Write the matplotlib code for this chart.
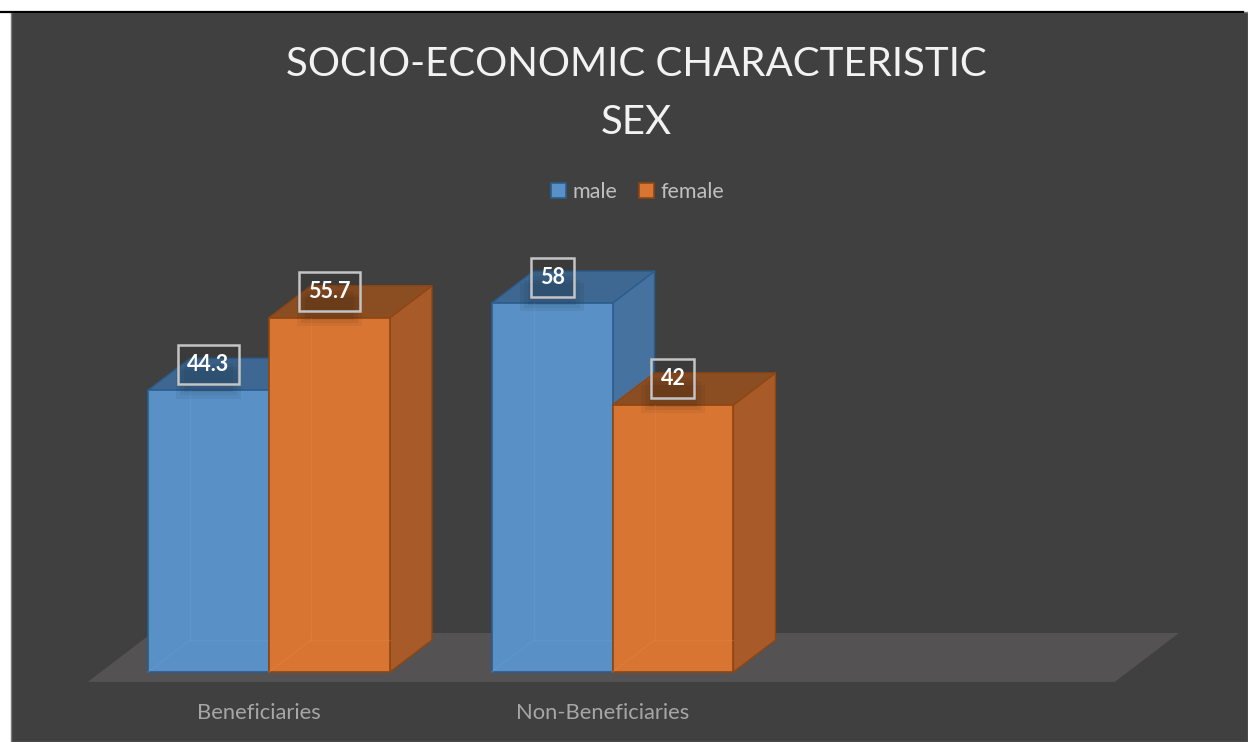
import matplotlib
matplotlib.use("Agg")
import matplotlib.pyplot as plt
from matplotlib.patches import Polygon, Rectangle, Patch
from matplotlib.lines import Line2D

# ---- data ----
categories = ["Beneficiaries", "Non-Beneficiaries"]
series_names = ["male", "female"]
male = [44.3, 58]
female = [55.7, 42]
title_lines = ["SOCIO-ECONOMIC CHARACTERISTIC", "SEX"]

# ---- style ----
BG = "#404040"
FLOOR = "#545253"
colors = {
    "male": dict(front="#5990c6", side="#45729f", top="#3e6891", edge="#2b5d8e", hid="#6aa2d8"),
    "female": dict(front="#d87533", side="#a85b28", top="#8b4e23", edge="#8f4612", hid="#e88a48"),
}

W, H = 1248, 742
fig = plt.figure(figsize=(W / 100, H / 100), dpi=100)
fig.patch.set_facecolor("white")

# dark chart panel + top rule
fig.patches.append(Rectangle((11 / W, 0), 1 - 11 / W, 1 - 12 / H, transform=fig.transFigure,
                             facecolor=BG, edgecolor="#7a7a7a", linewidth=1.0, zorder=-5))
fig.lines.append(Line2D([0, 1243 / W], [1 - 11.5 / H, 1 - 11.5 / H], transform=fig.transFigure,
                        color="black", linewidth=1.6, zorder=-4))

ax = fig.add_axes([0, 0, 1, 1])
ax.set_zorder(2)
ax.set_axis_off()
ax.patch.set_alpha(0)
ax.set_xlim(-0.7831, 2.850)
ax.set_ylim(-11.0, 105.66)

bw = 0.352             # bar width (category units)
DX, DY = 0.1223, 5.03  # depth vector
n_slots = 3            # Excel axis reserves space for 3 category slots

# floor
d0, d1 = -0.31, 1.22
xl, xr = -0.49, n_slots - 0.5
floor = Polygon([(xl + d0 * DX, d0 * DY), (xr + d0 * DX, d0 * DY),
                 (xr + d1 * DX, d1 * DY), (xl + d1 * DX, d1 * DY)],
                closed=True, facecolor=FLOOR, edgecolor="none", zorder=1)
ax.add_patch(floor)


def draw_bar(x0, v, c, z):
    w = bw
    ax.add_patch(Polygon([(x0 + w, 0), (x0 + w + DX, DY), (x0 + w + DX, v + DY), (x0 + w, v)],
                         closed=True, facecolor=c["side"], edgecolor=c["edge"], linewidth=1.0,
                         joinstyle="round", zorder=z))
    ax.add_patch(Polygon([(x0, v), (x0 + DX, v + DY), (x0 + w + DX, v + DY), (x0 + w, v)],
                         closed=True, facecolor=c["top"], edgecolor=c["edge"], linewidth=1.0,
                         joinstyle="round", zorder=z))
    ax.bar(x0, v, width=w, align="edge", color=c["front"], edgecolor=c["edge"],
           linewidth=1.2, zorder=z + 0.1)
    kw = dict(color=c["hid"], linewidth=1.0, alpha=0.3, zorder=z + 0.2)
    ax.plot([x0 + DX, x0 + DX], [DY, v], **kw)
    ax.plot([x0 + DX, x0 + w], [DY, DY], **kw)
    ax.plot([x0, x0 + DX], [0, DY], **kw)


z = 3
for i, cat in enumerate(categories):
    draw_bar(i - bw, male[i], colors["male"], z)
    z += 1
    draw_bar(i, female[i], colors["female"], z)
    z += 1

# data labels
for i in range(len(categories)):
    for x0, v in [(i - bw, male[i]), (i, female[i])]:
        xc = x0 + bw / 2
        lab = f"{v:g}"
        for k in range(3):
            ax.add_patch(Rectangle((xc - 0.07 - 0.012 * k, v - 0.3 - 0.5 * k), 0.14 + 0.024 * k, 4.5,
                                   facecolor="black", alpha=0.05, edgecolor="none", zorder=20))
        ax.text(xc, v + 4.1, lab, ha="center", va="center", color="white", fontsize=15.5,
                fontweight="bold", family=["Lato", "DejaVu Sans"], zorder=22,
                bbox=dict(boxstyle="square,pad=0.42", facecolor=(0, 0, 0, 0.08),
                          edgecolor="#c4c4c4", linewidth=1.8))

# category labels
for i, cat in enumerate(categories):
    ax.text(i - 0.03, -6.4, cat, ha="center", va="center", color="#a6a6a6", fontsize=15.8,
            family=["Lato", "DejaVu Sans"], zorder=5)

# title
for k, line in enumerate(title_lines):
    fig.text(636 / W, 1 - (64 + 58 * k) / H, line, ha="center", va="center", color="#f2f2f2",
             fontsize=29, fontweight="normal", family=["Lato", "DejaVu Sans"])

# legend
handles = [Patch(facecolor=colors[s]["front"], edgecolor=colors[s]["edge"], linewidth=1.2, label=s)
           for s in series_names]
leg = ax.legend(handles=handles, loc="center", bbox_to_anchor=(638 / W, 1 - 192 / H),
                bbox_transform=fig.transFigure, ncol=2, frameon=False,
                handlelength=0.7, handleheight=0.7, handletextpad=0.3, columnspacing=1.0,
                prop=dict(family=["Lato", "DejaVu Sans"], size=15.5))
for t in leg.get_texts():
    t.set_color("#bfbfbf")

fig.savefig("out.png", dpi=100, facecolor=fig.get_facecolor())
